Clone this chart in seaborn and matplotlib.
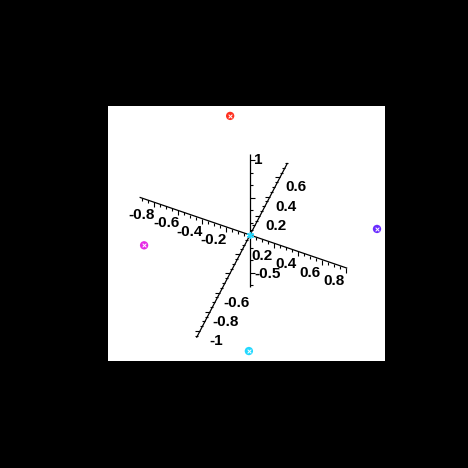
import numpy as np
import pandas as pd
import matplotlib
matplotlib.use("Agg")
import matplotlib.pyplot as plt
from matplotlib.collections import LineCollection
import seaborn as sns

# ---- data (3D points) ----
point_names = ["red", "blue", "magenta", "cyan"]
point_x = [-0.43, 0.885, -0.725, 0.274]
point_y = [0.635, 0.416, -0.378, -0.68]
point_z = [0.54, 0.032, -0.05, -0.527]
point_colors = ["#ff3020", "#6a2cff", "#e62ae6", "#22d8ff"]
origin_point = [0.0, 0.0, 0.0]

# axis extents
x_range = [-0.92, 0.81]
y_range = [-1.07, 0.75]
z_range = [-0.69, 1.08]

# tick labels shown
x_tick_labels = [-0.8, -0.6, -0.4, -0.2, 0.2, 0.4, 0.6, 0.8]
y_tick_labels = [-1.0, -0.8, -0.6, 0.2, 0.4, 0.6]
z_tick_labels = [-0.5, 1.0]

# ---- view (orthographic projection, screen units per data unit) ----
E = np.array([[120.0, -41.0],
              [50.0, 96.0],
              [0.0, 75.0]])

def proj(p):
    return np.asarray(p, dtype=float) @ E

sns.set_theme(style="white")
plt.rcParams["font.family"] = ["Liberation Sans Narrow", "Liberation Sans", "DejaVu Sans"]

fig = plt.figure(figsize=(4.68, 4.68), dpi=100, facecolor="black")
ax = fig.add_axes([108 / 468, (468 - 361) / 468, 277 / 468, 255 / 468])
ax.set_facecolor("white")
ax.set_xlim(-142, 135)
ax.set_ylim(-126, 129)
ax.set_xticks([])
ax.set_yticks([])
for s in ax.spines.values():
    s.set_visible(False)

# axes lines
axis_segs = []
for i, rng in enumerate([x_range, y_range, z_range]):
    a = np.zeros(3); b = np.zeros(3)
    a[i] = rng[0]; b[i] = rng[1]
    axis_segs.append([proj(a), proj(b)])
ax.add_collection(LineCollection(axis_segs, colors="black", linewidths=0.9))

# tick marks
tick_segs = []
def add_ticks(idx, rng, step, major_every, direction, minor_len, major_len):
    k0 = int(np.ceil(rng[0] / step - 1e-9)); k1 = int(np.floor(rng[1] / step + 1e-9))
    for k in range(k0, k1 + 1):
        if k == 0:
            continue
        p = np.zeros(3); p[idx] = k * step
        q = proj(p)
        L = major_len if k % major_every == 0 else minor_len
        tick_segs.append([q, q + np.array(direction) * L])

add_ticks(0, x_range, 0.05, 4, (0, -1), 3, 5)
add_ticks(1, y_range, 0.05, 4, (-1, 0), 3, 5)
add_ticks(2, z_range, 1 / 6, 3, (1, 0), 3, 5)
ax.add_collection(LineCollection(tick_segs, colors="black", linewidths=0.8))

lab_kw = dict(fontsize=11, fontweight="heavy", color="black")
for v in x_tick_labels:
    q = proj([v, 0, 0])
    ax.text(q[0] - 12, q[1] - 13, f"{v:g}", ha="center", va="center", **lab_kw)
for v in y_tick_labels:
    q = proj([0, v, 0])
    ax.text(q[0] + 16, q[1] - 10, f"{v:g}", ha="center", va="center", **lab_kw)
for v in z_tick_labels:
    q = proj([0, 0, v])
    ax.text(q[0] + 4, q[1] - (1.5 if v < 0 else 0), f"{v:g}", ha="left", va="center", **lab_kw)

# points
uv = proj(np.column_stack([point_x, point_y, point_z]))
df = pd.DataFrame({"name": point_names, "u": uv[:, 0], "v": uv[:, 1]})
sns.scatterplot(data=df, x="u", y="v", hue="name", palette=dict(zip(point_names, point_colors)),
                s=36, edgecolor="none", legend=False, ax=ax, zorder=5)
sns.scatterplot(data=df, x="u", y="v", color="white", marker="x", s=7, linewidth=0.7,
                legend=False, ax=ax, zorder=6)
o = proj(origin_point)
ax.plot([o[0]], [o[1]], marker=(6, 2, 0), color="#22d8ff", ms=5, mew=1.0, zorder=6)
ax.set_xlabel(""); ax.set_ylabel("")

fig.savefig("out.png", dpi=100, facecolor="black")
